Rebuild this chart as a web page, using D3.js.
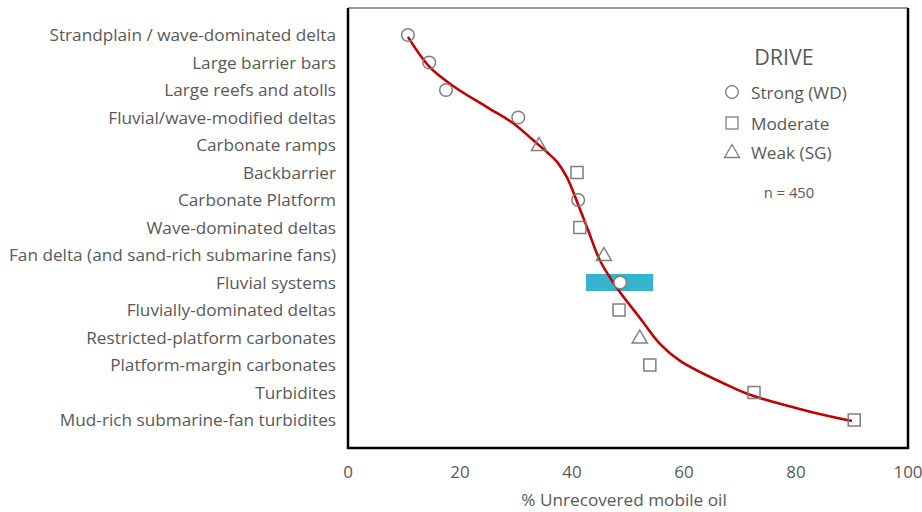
<!DOCTYPE html>
<html><head><meta charset="utf-8">
<script src="https://cdn.jsdelivr.net/npm/d3@7"></script>
<style>body{margin:0;background:#fff;} text{font-family:"Open Sans",Lato,sans-serif;}</style>
</head><body>
<svg id="c" width="922" height="512"></svg>
<script>
const categories = ["Strandplain / wave-dominated delta","Large barrier bars","Large reefs and atolls","Fluvial/wave-modified deltas","Carbonate ramps","Backbarrier","Carbonate Platform","Wave-dominated deltas","Fan delta (and sand-rich submarine fans)","Fluvial systems","Fluvially-dominated deltas","Restricted-platform carbonates","Platform-margin carbonates","Turbidites","Mud-rich submarine-fan turbidites"];
const values = [10.7,14.5,17.5,30.4,34.1,40.9,41.1,41.4,45.7,48.6,48.4,52.1,53.9,72.5,90.4];
const drive = ["Strong","Strong","Strong","Strong","Weak","Moderate","Strong","Moderate","Weak","Strong","Moderate","Weak","Moderate","Moderate","Moderate"];
const rangeBar = {category:"Fluvial systems", low:42.5, high:54.5};
const trendX = [10.7,14.6,19.1,24.8,29.5,33.1,35.6,37.4,39.1,41.3,42.9,45.0,48.0,52.1,55.7,59.3,68.8,72.3,82.0,90.0];
const trendRow = [0.07,1.17,1.9,2.62,3.21,3.83,4.27,4.63,5.18,6.27,7.11,8.2,9.19,10.28,11.23,11.85,12.83,13.12,13.67,14.04];
const xTicks = [0,20,40,60,80,100];
const legendItems = [["Strong","Strong (WD)"],["Moderate","Moderate"],["Weak","Weak (SG)"]];
const sampleNote = "n = 450";

const svg = d3.select("#c");
const L=348,R=908,T=8,B=448;
const x = d3.scaleLinear().domain([0,100]).range([L,R]);
const rowY = d3.scaleLinear().domain([0,categories.length-1]).range([35,420]);
const y = c => rowY(categories.indexOf(c));
const gray="#595959", mk="#7f7f7f";

// frame
svg.append("line").attr("x1",L).attr("x2",R).attr("y1",T).attr("y2",T).attr("stroke","#7a7a7a").attr("stroke-width",1.5);
svg.append("path").attr("d",`M${L},${T}V${B}H${R}V${T}`).attr("fill","none").attr("stroke","#000").attr("stroke-width",2.5);

// category labels
svg.append("g").selectAll("text").data(categories).join("text")
  .attr("x",336).attr("y",(d,i)=>rowY(i)).attr("dy","0.35em").attr("text-anchor","end")
  .attr("fill",gray).attr("font-size",17.2).text(d=>d);

// x tick labels
svg.append("g").selectAll("text").data(xTicks).join("text")
  .attr("x",d=>x(d)).attr("y",478).attr("text-anchor","middle").attr("fill",gray).attr("font-size",17).text(d=>d);
svg.append("text").attr("x",624).attr("y",506).attr("text-anchor","middle").attr("fill",gray).attr("font-size",17.2).text("% Unrecovered mobile oil");

// range bar
svg.append("rect").attr("x",x(rangeBar.low)).attr("width",x(rangeBar.high)-x(rangeBar.low))
  .attr("y",y(rangeBar.category)-8.5).attr("height",17).attr("fill","#36b4cf");

// trend line
const pts = trendX.map((v,i)=>[x(v),rowY(trendRow[i])]);
svg.append("path").attr("d",d3.line().curve(d3.curveCatmullRom.alpha(0.5))(pts))
  .attr("fill","none").attr("stroke","#c00000").attr("stroke-width",2.6);

function marker(g,type){
  if(type==="Strong") g.append("circle").attr("r",6.3);
  else if(type==="Moderate") g.append("rect").attr("x",-6).attr("y",-6).attr("width",12).attr("height",12);
  else g.append("path").attr("d","M0,-7.5L7.5,5.5L-7.5,5.5Z");
}
values.forEach((v,i)=>{
  const g=svg.append("g").attr("transform",`translate(${x(v)},${rowY(i)})`)
    .attr("fill",drive[i]==="Strong"&&categories[i]===rangeBar.category?"#fff":"none")
    .attr("stroke",mk).attr("stroke-width",1.5);
  marker(g,drive[i]);
});

// legend
svg.append("text").attr("x",784).attr("y",65).attr("text-anchor","middle").attr("fill",gray).attr("font-size",21.5).text("DRIVE");
legendItems.forEach((d,i)=>{
  const yy=[92,123,152][i];
  const g=svg.append("g").attr("transform",`translate(732,${yy})`).attr("fill","none").attr("stroke",mk).attr("stroke-width",1.3);
  marker(g,d[0]);
  svg.append("text").attr("x",751).attr("y",yy).attr("dy","0.38em").attr("fill",gray).attr("font-size",17.2).text(d[1]);
});
svg.append("text").attr("x",789).attr("y",198).attr("text-anchor","middle").attr("fill",gray).attr("font-size",14.8).text(sampleNote);
</script>
</body></html>
